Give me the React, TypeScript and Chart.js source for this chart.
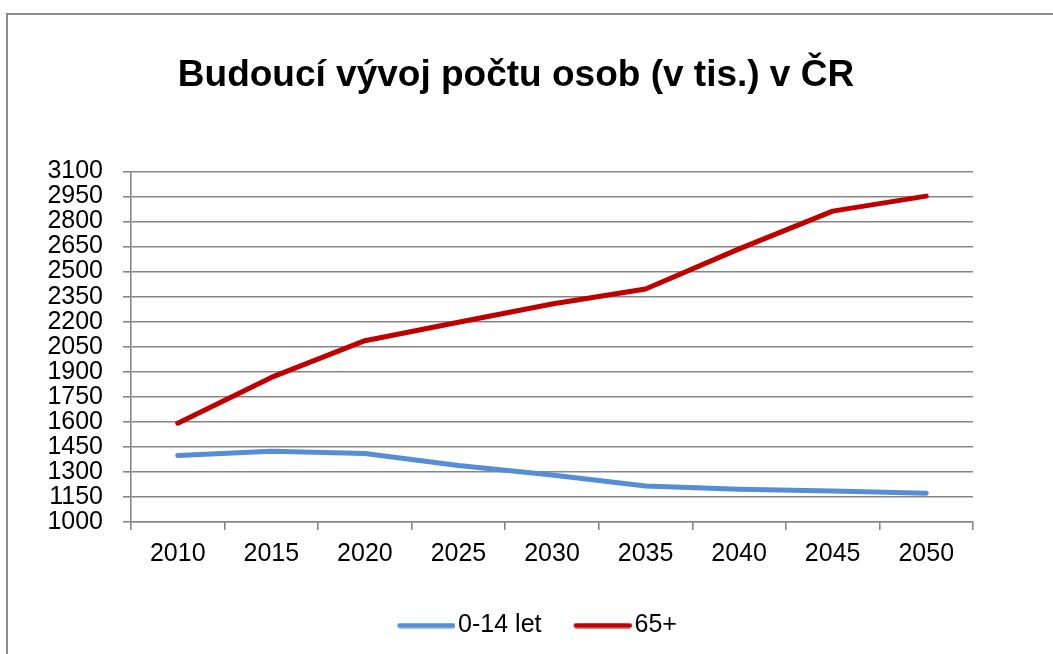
import React, { useEffect, useRef } from "react";
import { Chart, registerables } from "chart.js";

Chart.register(...registerables);

const categories = ["2010", "2015", "2020", "2025", "2030", "2035", "2040", "2045", "2050"];
const children0to14 = [1398, 1424, 1410, 1338, 1281, 1216, 1196, 1186, 1172];
const seniors65plus = [1592, 1866, 2086, 2196, 2306, 2396, 2636, 2862, 2952];
const yMin = 1000;
const yMax = 3100;
const yStep = 150;

const FONT = "'Liberation Sans', Arial, sans-serif";
const GRID = "#868686";
const BLUE = "#558ED5";
const RED = "#C00000";

const legendShift = {
  id: "legendShift",
  afterLayout(chart: any) {
    const lg = chart.legend;
    if (lg) {
      lg.left += 10;
      lg.right += 10;
    }
  },
};

// legend symbol: a round-capped line sitting at the right end of a wider transparent image
function legendSymbol(color: string): HTMLCanvasElement {
  const c = document.createElement("canvas");
  c.width = 90;
  c.height = 6;
  const ctx = c.getContext("2d")!;
  ctx.strokeStyle = color;
  ctx.lineWidth = 5;
  ctx.lineCap = "round";
  ctx.beginPath();
  ctx.moveTo(90 - 58 + 2.5, 3);
  ctx.lineTo(90 - 2.5, 3);
  ctx.stroke();
  return c;
}

export default function App() {
  const ref = useRef<HTMLCanvasElement | null>(null);

  useEffect(() => {
    if (!ref.current) return;
    const chart = new Chart(ref.current, {
      type: "line",
      data: {
        labels: categories,
        datasets: [
          {
            label: "0-14 let",
            data: children0to14,
            borderColor: BLUE,
            backgroundColor: BLUE,
            borderWidth: 5,
            borderCapStyle: "round",
            borderJoinStyle: "round",
            pointRadius: 0,
            pointStyle: legendSymbol(BLUE) as any,
            tension: 0,
            yAxisID: "y",
          },
          {
            label: "65+",
            data: seniors65plus,
            borderColor: RED,
            backgroundColor: RED,
            borderWidth: 5,
            borderCapStyle: "round",
            borderJoinStyle: "round",
            pointRadius: 0,
            pointStyle: legendSymbol(RED) as any,
            tension: 0,
            yAxisID: "y",
          },
        ],
      },
      plugins: [legendShift],
      options: {
        responsive: false,
        animation: false,
        layout: { padding: { left: 0, right: 21, top: 0, bottom: 6 } },
        plugins: {
          title: {
            display: true,
            text: "Budoucí vývoj počtu osob (v tis.) v ČR",
            color: "#000",
            font: { family: FONT, size: 37, weight: "bold" },
            padding: { top: 54, bottom: 73 },
          },
          legend: {
            display: true,
            position: "bottom",
            labels: {
              usePointStyle: true,
              pointStyleWidth: 70.5,
              color: "#000",
              font: { family: FONT, size: 25 },
              padding: 10,
            },
          },
          tooltip: { enabled: false },
        },
        scales: {
          x: {
            offset: true,
            grid: {
              display: true,
              offset: true,
              drawOnChartArea: false,
              drawTicks: true,
              tickLength: 8,
              color: GRID,
              lineWidth: 1.6,
            },
            border: { display: true, color: GRID, width: 1.6 },
            ticks: {
              color: "#000",
              font: { family: FONT, size: 25 },
              padding: 9,
              maxRotation: 0,
              autoSkip: false,
            },
            afterFit: (s: any) => {
              s.height = 81;
            },
          },
          y: {
            min: yMin,
            max: yMax,
            grid: {
              color: GRID,
              lineWidth: 1.6,
              drawTicks: true,
              tickLength: 8,
            },
            border: { display: true, color: GRID, width: 1.6 },
            ticks: {
              stepSize: yStep,
              autoSkip: false,
              color: "#000",
              font: { family: FONT, size: 25, lineHeight: 1 },
              padding: 20,
              callback: (v: any) => String(v),
            },
            afterFit: (s: any) => {
              s.width = 131;
            },
          },
          yRight: {
            position: "right",
            display: true,
            grid: { display: false },
            border: { display: false },
            ticks: { display: false },
            afterFit: (s: any) => {
              s.width = 59;
            },
          },
        },
      },
    });
    return () => chart.destroy();
  }, []);

  return (
    <div style={{ position: "fixed", left: 0, top: 0, width: 1053, height: 654, background: "#fff", overflow: "hidden" }}>
      <div
        style={{
          position: "absolute",
          left: 6,
          top: 13,
          width: 1060,
          height: 660,
          borderLeft: "2px solid #8a8a8a",
          borderTop: "2px solid #8a8a8a",
        }}
      />
      <canvas ref={ref} width={1053} height={654} style={{ position: "absolute", left: 0, top: 0 }} />
    </div>
  );
}
